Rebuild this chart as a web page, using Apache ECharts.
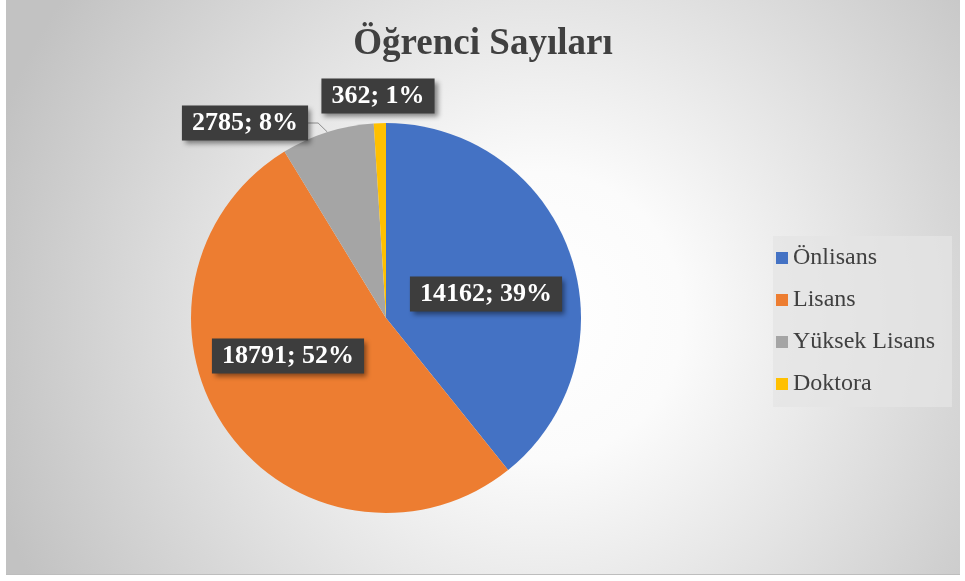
<!DOCTYPE html>
<html>
<head>
<meta charset="utf-8">
<script src="https://cdn.jsdelivr.net/npm/echarts@6/dist/echarts.min.js"></script>
<style>
  html, body { margin: 0; padding: 0; background: #fff; }
  #chart { position: absolute; left: 6px; top: 0; width: 954px; height: 574px; border-bottom: 1px solid #bdbdbd; }
</style>
</head>
<body>
<div id="chart"></div>
<script>
// veriler
const categories = ['Önlisans', 'Lisans', 'Yüksek Lisans', 'Doktora'];
const counts = [14162, 18791, 2785, 362];
const colors = ['#4472C4', '#ED7D31', '#A5A5A5', '#FFC000'];

// etiket yerleşimi (Excel'deki gibi)
const labelPos = [[480, 294], [282, 356], [239, 123], [372, 96]];
const labelOutside = [false, false, true, true];
const labelLineShow = [false, false, true, false];

const serif = '"Liberation Serif", "Times New Roman", serif';

const myChart = echarts.init(document.getElementById('chart'));

myChart.setOption({
  backgroundColor: {
    type: 'radial', x: 0.56, y: 0.55, r: 1.0,
    colorStops: [
      { offset: 0, color: '#ffffff' },
      { offset: 0.25, color: '#fbfbfb' },
      { offset: 1, color: '#c2c2c2' }
    ]
  },
  title: {
    text: 'Öğrenci Sayıları',
    left: 'center',
    top: 21,
    textStyle: { fontFamily: serif, fontSize: 37, fontWeight: 'bold', color: '#404040' }
  },
  legend: {
    orient: 'vertical',
    left: 767,
    top: 236,
    padding: [10, 17, 11, 3],
    itemGap: 18,
    itemWidth: 12,
    itemHeight: 12,
    icon: 'rect',
    backgroundColor: 'rgba(228,228,228,0.75)',
    selectedMode: false,
    textStyle: { fontFamily: serif, fontSize: 24, color: '#404040' },
    data: categories
  },
  series: [{
    type: 'pie',
    center: [380, 318],
    radius: 195,
    startAngle: 90,
    clockwise: true,
    avoidLabelOverlap: false,
    animation: false,
    data: categories.map((name, i) => ({
      name,
      value: counts[i],
      itemStyle: { color: colors[i] },
      label: { position: labelOutside[i] ? 'outside' : 'inside' },
      labelLine: { show: labelLineShow[i], length: 10, length2: 10 }
    })),
    label: {
      show: true,
      formatter: p => `${p.value}; ${Math.round(p.percent)}%`,
      fontFamily: serif,
      fontSize: 26,
      fontWeight: 'bold',
      color: '#ffffff',
      backgroundColor: '#3d3d3d',
      padding: [5, 10, 4, 10],
      shadowColor: 'rgba(0,0,0,0.45)',
      shadowBlur: 5,
      shadowOffsetX: 3,
      shadowOffsetY: 3
    },
    labelLine: {
      lineStyle: { color: '#8c8c8c', width: 1 }
    },
    labelLayout: params => ({
      x: labelPos[params.dataIndex][0],
      y: labelPos[params.dataIndex][1],
      align: 'center',
      verticalAlign: 'middle'
    })
  }]
});

window.addEventListener('resize', () => { myChart.resize(); });
</script>
</body>
</html>
